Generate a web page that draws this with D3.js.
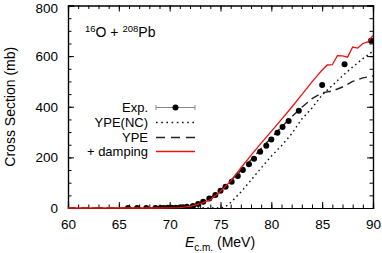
<!DOCTYPE html>
<html>
<head>
<meta charset="utf-8">
<script src="https://cdn.jsdelivr.net/npm/d3@7"></script>
<style>
  body { margin: 0; background: #fff; }
  svg { display: block; font-family: "Liberation Sans", Arial, sans-serif; }
</style>
</head>
<body>
<div id="chart"></div>
<script>
// experimental points (E_cm in MeV, sigma in mb)
var expE  = [65.9, 66.8, 67.7, 68.6, 69.1, 69.4, 69.8, 70.2, 70.6, 71.0, 71.3, 71.7, 72.3, 72.8, 73.3, 73.9, 74.5, 75.0, 75.5, 76.1, 76.7, 77.2, 77.8, 78.3, 78.9, 79.5, 80.0, 80.6, 81.1, 81.7, 82.7, 85.0, 87.2, 89.8];
var expXS = [0, 0, 0, 0.2, 0.3, 0.4, 0.6, 0.8, 1.2, 2, 3, 5, 8, 16, 25, 38, 51, 68, 84, 104, 126, 150, 173, 195, 222, 246, 271, 297, 320, 344, 384, 486, 568, 661];

// YPE(NC) - dotted
var ncE  = [60, 65, 70, 74, 75, 75.5, 76, 76.5, 77, 78, 79, 80, 81, 82, 83, 84, 85, 86, 87, 88, 89, 90];
var ncXS = [0, 0, 0, 0, 0, 5, 22, 42, 63, 110, 158, 205, 246, 293, 352, 395, 447, 484, 522, 557, 590, 620];

// YPE - dashed
var ypeE  = [60, 65, 69, 70, 71, 72, 73, 74, 75, 76, 77, 78, 79, 80, 81, 82, 83, 84, 85, 86, 87, 88, 89, 90];
var ypeXS = [0, 0, 0, 0.5, 2, 7, 19, 40, 70, 108, 148, 190, 235, 278, 320, 360, 398, 432, 455, 462, 478, 500, 514, 522];

// YPE + damping - red
var dampE  = [60, 65, 69, 70, 71, 72, 73, 74, 75, 76, 77, 78, 79, 80, 81, 82, 83, 84, 84.5, 85, 85.5, 86, 86.5, 87, 87.5, 88, 88.5, 89, 89.5, 90];
var dampXS = [0, 0, 0, 0.3, 1.5, 6, 17, 32, 66, 106, 158, 208, 256, 303, 350, 398, 448, 498, 522, 545, 565, 566, 602, 601, 596, 636, 632, 650, 656, 682];

var xTicks = [60, 65, 70, 75, 80, 85, 90];
var yTicks = [0, 200, 400, 600, 800];

var legendNames = ["Exp.", "YPE(NC)", "YPE", "+ damping"];

var cWidth = 382, cHeight = 253;
var margin = {top: 5.5, right: 9, bottom: 45, left: 68};

var svg = d3.select("#chart").append("svg")
  .attr("width", cWidth)
  .attr("height", cHeight);

var xScale = d3.scaleLinear()
  .domain([60, 90])
  .range([margin.left, cWidth - margin.right]);

var yScale = d3.scaleLinear()
  .domain([0, 800])
  .range([cHeight - margin.bottom, margin.top]);

// axes with inward ticks on all four sides
var bottomAxis = d3.axisBottom(xScale).tickValues(xTicks).tickSize(-6).tickPadding(11).tickFormat(d3.format("d"));
var bottomMinor = d3.axisBottom(xScale).tickValues(d3.range(60, 91, 1)).tickSize(-3.5).tickFormat("");
var topAxis = d3.axisTop(xScale).tickValues(xTicks).tickSize(-6).tickFormat("");
var topMinor = d3.axisTop(xScale).tickValues(d3.range(60, 91, 1)).tickSize(-3.5).tickFormat("");
var leftAxis = d3.axisLeft(yScale).tickValues(yTicks).tickSize(-6).tickPadding(10).tickFormat(d3.format("d"));
var leftMinor = d3.axisLeft(yScale).tickValues(d3.range(0, 801, 50)).tickSize(-3.5).tickFormat("");
var rightAxis = d3.axisRight(yScale).tickValues(yTicks).tickSize(-6).tickFormat("");
var rightMinor = d3.axisRight(yScale).tickValues(d3.range(0, 801, 50)).tickSize(-3.5).tickFormat("");

var by = yScale(0), tyy = yScale(800), lx = xScale(60), rx = xScale(90);

[[bottomMinor, "translate(0," + by + ")"], [bottomAxis, "translate(0," + by + ")"],
 [topMinor, "translate(0," + tyy + ")"], [topAxis, "translate(0," + tyy + ")"],
 [leftMinor, "translate(" + lx + ",0)"], [leftAxis, "translate(" + lx + ",0)"],
 [rightMinor, "translate(" + rx + ",0)"], [rightAxis, "translate(" + rx + ",0)"]].forEach(function(a) {
  var g = svg.append("g")
    .attr("transform", a[1])
    .call(a[0]);
  g.select(".domain").attr("stroke", "#000").attr("stroke-width", 1.2);
  g.selectAll(".tick line").attr("stroke", "#000").attr("stroke-width", 1);
  g.selectAll(".tick text")
    .attr("fill", "#000")
    .style("font-size", "13.5px")
    .style("font-family", "Liberation Sans, Arial, sans-serif");
});

// keep the top label inside the window
svg.selectAll(".tick text")
  .filter(function(d) { return d === 800; })
  .attr("dy", "0.52em");

svg.append("clipPath").attr("id", "clip")
  .append("rect")
  .attr("x", margin.left)
  .attr("y", margin.top)
  .attr("width", xScale(90) - xScale(60))
  .attr("height", yScale(0) - yScale(800) + 1);

var plot = svg.append("g").attr("clip-path", "url(#clip)");

var makeLine = function(xs, ys) {
  var pts = xs.map(function(d, i) { return [d, ys[i]]; });
  return d3.line()
    .x(function(d) { return xScale(d[0]); })
    .y(function(d) { return yScale(d[1]); })(pts);
};

plot.append("path")
  .attr("d", makeLine(ncE, ncXS))
  .attr("fill", "none")
  .attr("stroke", "#111")
  .attr("stroke-width", 1.4)
  .attr("stroke-dasharray", "1.6,3.2");

plot.append("path")
  .attr("d", makeLine(ypeE, ypeXS))
  .attr("fill", "none")
  .attr("stroke", "#222")
  .attr("stroke-width", 1.4)
  .attr("stroke-dasharray", "8,5");

plot.selectAll("circle.exp")
  .data(expE)
  .enter()
  .append("circle")
  .attr("class", "exp")
  .attr("cx", function(d, i) { return xScale(d); })
  .attr("cy", function(d, i) { return yScale(expXS[i]); })
  .attr("r", 3)
  .style("fill", "#000");

plot.append("path")
  .attr("d", makeLine(dampE, dampXS))
  .attr("fill", "none")
  .attr("stroke", "#f01010")
  .attr("stroke-width", 1.3);

// axis titles
var xTitle = svg.append("text")
  .attr("x", 220)
  .attr("y", 246.5)
  .attr("text-anchor", "middle")
  .style("font-size", "14px")
  .attr("fill", "#000");
xTitle.append("tspan").style("font-style", "italic").text("E");
xTitle.append("tspan").attr("dy", 4).style("font-size", "10px").text("c.m.");
xTitle.append("tspan").attr("dy", -4).text(" (MeV)");

svg.append("text")
  .attr("transform", "translate(15," + ((yScale(0) + yScale(800)) / 2) + ") rotate(-90)")
  .attr("text-anchor", "middle")
  .style("font-size", "14px")
  .attr("fill", "#000")
  .text("Cross Section (mb)");

// reaction label
var label = svg.append("text")
  .attr("x", 85)
  .attr("y", 37)
  .style("font-size", "14px")
  .attr("fill", "#000");
label.append("tspan").attr("dy", -5).style("font-size", "9.5px").text("16");
label.append("tspan").attr("dy", 5).text("O + ");
label.append("tspan").attr("dy", -5).style("font-size", "9.5px").text("208");
label.append("tspan").attr("dy", 5).text("Pb");

// legend
var legY = [107.5, 122.5, 137.5, 151.5];
var legX0 = 156, legX1 = 195;
var leg = svg.append("g");

legendNames.forEach(function(name, i) {
  leg.append("text")
    .attr("x", 148)
    .attr("y", legY[i] + 4.5)
    .attr("text-anchor", "end")
    .style("font-size", "13px")
    .attr("fill", "#000")
    .text(name);
});

leg.append("line").attr("x1", legX0).attr("x2", legX1).attr("y1", legY[0]).attr("y2", legY[0])
  .attr("stroke", "#888").attr("stroke-width", 1);
leg.append("line").attr("x1", legX0).attr("x2", legX0).attr("y1", legY[0] - 2.5).attr("y2", legY[0] + 2.5)
  .attr("stroke", "#888").attr("stroke-width", 1);
leg.append("line").attr("x1", legX1).attr("x2", legX1).attr("y1", legY[0] - 2.5).attr("y2", legY[0] + 2.5)
  .attr("stroke", "#888").attr("stroke-width", 1);
leg.append("circle").attr("cx", (legX0 + legX1) / 2).attr("cy", legY[0]).attr("r", 3).style("fill", "#000");

leg.append("line").attr("x1", legX0).attr("x2", legX1).attr("y1", legY[1]).attr("y2", legY[1])
  .attr("stroke", "#111").attr("stroke-width", 1.4).attr("stroke-dasharray", "1.6,3.6");
leg.append("line").attr("x1", legX0).attr("x2", legX1).attr("y1", legY[2]).attr("y2", legY[2])
  .attr("stroke", "#222").attr("stroke-width", 1.4).attr("stroke-dasharray", "9,6");
leg.append("line").attr("x1", legX0).attr("x2", legX1).attr("y1", legY[3]).attr("y2", legY[3])
  .attr("stroke", "#f01010").attr("stroke-width", 1.3);
</script>
</body>
</html>
